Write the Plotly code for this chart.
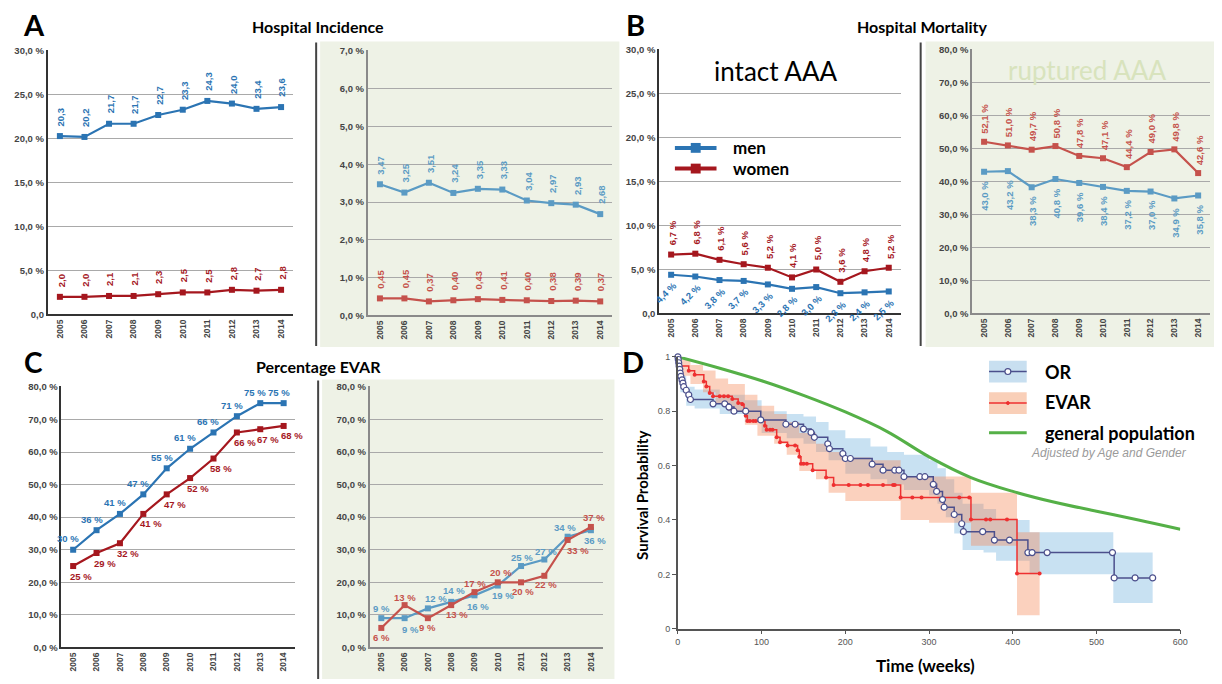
import plotly.graph_objects as go

W, H = 1222, 684
years = [str(y) for y in range(2005, 2015)]

# ---------------- data ----------------
# A  Hospital incidence (intact / ruptured)
inc_intact_men = [20.3, 20.2, 21.7, 21.7, 22.7, 23.3, 24.3, 24.0, 23.4, 23.6]
inc_intact_women = [2.0, 2.0, 2.1, 2.1, 2.3, 2.5, 2.5, 2.8, 2.7, 2.8]
inc_rupt_men = [3.47, 3.25, 3.51, 3.24, 3.35, 3.33, 3.04, 2.97, 2.93, 2.68]
inc_rupt_women = [0.45, 0.45, 0.37, 0.40, 0.43, 0.41, 0.40, 0.38, 0.39, 0.37]
# B  Hospital mortality
mort_intact_men = [4.4, 4.2, 3.8, 3.7, 3.3, 2.8, 3.0, 2.3, 2.4, 2.5]
mort_intact_women = [6.7, 6.8, 6.1, 5.6, 5.2, 4.1, 5.0, 3.6, 4.8, 5.2]
mort_rupt_men = [43.0, 43.2, 38.3, 40.8, 39.6, 38.4, 37.2, 37.0, 34.9, 35.8]
mort_rupt_women = [52.1, 51.0, 49.7, 50.8, 47.8, 47.1, 44.4, 49.0, 49.8, 42.6]
# C  Percentage EVAR
evar_intact_men = [30, 36, 41, 47, 55, 61, 66, 71, 75, 75]
evar_intact_women = [25, 29, 32, 41, 47, 52, 58, 66, 67, 68]
evar_rupt_men = [9, 9, 12, 14, 16, 19, 25, 27, 34, 36]
evar_rupt_women = [6, 13, 9, 13, 17, 20, 20, 22, 33, 37]

# tick values / labels
ticks_30 = [0, 5, 10, 15, 20, 25, 30]
ticktext_30 = ["0,0", "5,0 %", "10,0 %", "15,0 %", "20,0 %", "25,0 %", "30,0 %"]
ticks_7 = [0, 1, 2, 3, 4, 5, 6, 7]
ticktext_7 = ["0,0 %", "1,0 %", "2,0 %", "3,0 %", "4,0 %", "5,0 %", "6,0 %", "7,0 %"]
ticks_80 = [0, 10, 20, 30, 40, 50, 60, 70, 80]
ticktext_80 = ["0,0 %", "10,0 %", "20,0 %", "30,0 %", "40,0 %", "50,0 %", "60,0 %", "70,0 %", "80,0 %"]

# D  Kaplan-Meier survival
or_t = [0, 0.5, 1, 1.5, 2.3, 2.8, 3.6, 5, 6, 7, 10, 13, 15, 42, 56, 61, 67, 81, 99, 129,
        140, 150, 159, 163, 179, 181, 197, 200, 206, 232, 245, 259, 264, 270, 289, 295, 305, 309, 316, 318,
        330, 339, 341, 364, 378, 396, 418, 423, 441, 519, 521, 546, 567]
or_s = [1.0, 0.99, 0.978, 0.966, 0.954, 0.94, 0.928, 0.915, 0.903, 0.89, 0.877, 0.86, 0.843, 0.827, 0.827, 0.815, 0.80, 0.80, 0.768, 0.752,
        0.752, 0.734, 0.722, 0.704, 0.68, 0.662, 0.644, 0.626, 0.626, 0.605, 0.583, 0.583, 0.583, 0.559, 0.559, 0.559, 0.531, 0.505, 0.475, 0.447,
        0.42, 0.386, 0.357, 0.357, 0.326, 0.326, 0.28, 0.28, 0.28, 0.28, 0.187, 0.187, 0.187]
or_ci_t = [0, 3, 10, 20, 50, 80, 100, 130, 150, 165, 180, 200, 230, 250, 270, 300, 310, 320, 330, 340,
           365, 380, 420, 520, 567]
or_ci_up = [1.0, 0.93, 0.89, 0.88, 0.86, 0.84, 0.80, 0.79, 0.78, 0.76, 0.73, 0.70, 0.67, 0.65, 0.64, 0.62, 0.59, 0.55, 0.50, 0.46,
            0.44, 0.40, 0.355, 0.28, 0.28]
or_ci_lo = [1.0, 0.87, 0.82, 0.81, 0.79, 0.76, 0.72, 0.70, 0.68, 0.65, 0.62, 0.57, 0.55, 0.53, 0.51, 0.49, 0.46, 0.41, 0.35, 0.29,
            0.28, 0.25, 0.20, 0.095, 0.095]
evar_t = [0, 3, 13, 20, 31, 34, 38, 42, 50, 55, 60, 65, 72, 77, 79, 81, 83, 86, 90, 93,
          104, 106, 110, 113, 118, 122, 131, 140, 143, 145, 147, 150, 154, 161, 177, 186, 204, 218, 227, 245,
          257, 259, 266, 280, 291, 336, 348, 350, 368, 373, 393, 405, 432]
evar_s = [1.0, 0.966, 0.949, 0.934, 0.909, 0.891, 0.867, 0.855, 0.855, 0.855, 0.855, 0.845, 0.83, 0.825, 0.80, 0.783, 0.764, 0.764, 0.764, 0.764,
          0.746, 0.732, 0.732, 0.732, 0.704, 0.686, 0.674, 0.674, 0.656, 0.632, 0.607, 0.607, 0.607, 0.583, 0.556, 0.529, 0.529, 0.529, 0.529, 0.529,
          0.529, 0.529, 0.483, 0.483, 0.483, 0.483, 0.483, 0.402, 0.402, 0.402, 0.402, 0.203, 0.203]
evar_ci_t = [0, 5, 15, 30, 45, 60, 80, 95, 115, 130, 145, 165, 180, 200, 230, 266, 300, 350, 405, 432]
evar_ci_up = [1.0, 0.99, 0.97, 0.95, 0.92, 0.90, 0.86, 0.82, 0.79, 0.76, 0.72, 0.68, 0.65, 0.63, 0.62, 0.56, 0.56, 0.50, 0.355, 0.355]
evar_ci_lo = [1.0, 0.93, 0.90, 0.87, 0.83, 0.80, 0.75, 0.71, 0.68, 0.64, 0.58, 0.55, 0.50, 0.47, 0.47, 0.40, 0.39, 0.305, 0.05, 0.05]
pop_t = [0, 50, 100, 150, 200, 250, 300, 350, 400, 450, 500, 550, 600]
pop_s = [1.0, 0.958, 0.912, 0.858, 0.797, 0.725, 0.632, 0.556, 0.505, 0.465, 0.432, 0.400, 0.366]

# ---------------- style ----------------
FT = "Lato, 'Open Sans', sans-serif"
FN = "'Liberation Sans', Arial, sans-serif"
BLUE, RED = "#2b74b3", "#a5171e"
BLUE_L, RED_L = "#5b9bc4", "#c5524c"
GREEN_BG = "#eef2e6"

fig = go.Figure()
shapes, ann = [], []


def px_dom(x0, x1, y0, y1):
    return [x0 / W, x1 / W], [1 - y1 / H, 1 - y0 / H]


def px_rect(x0, y0, x1, y1, **kw):
    return dict(type="rect", xref="paper", yref="paper", x0=x0 / W, x1=x1 / W,
                y0=1 - y1 / H, y1=1 - y0 / H, **kw)


def px_line(x0, y0, x1, y1, color, width):
    return dict(type="line", xref="paper", yref="paper", x0=x0 / W, x1=x1 / W,
                y0=1 - y0 / H, y1=1 - y1 / H, line=dict(color=color, width=width))


def ptext(x, y, text, size, color="black", weight="normal", xanchor="center", family=FT, angle=0, style="normal"):
    ann.append(dict(x=x / W, y=1 - y / H, xref="paper", yref="paper", text=text, showarrow=False,
                    xanchor=xanchor, yanchor="middle", textangle=angle,
                    font=dict(family=family, size=size, color=color, weight=weight, style=style)))


# background panels
shapes.append(px_rect(320, 37, 622, 347, fillcolor=GREEN_BG, line=dict(width=0), layer="below"))
shapes.append(px_rect(931, 37, 1222, 347, fillcolor=GREEN_BG, line=dict(width=0), layer="below"))
shapes.append(px_rect(322, 380, 617, 684, fillcolor=GREEN_BG, line=dict(width=0), layer="below"))
shapes.append(px_line(316, 38, 316, 346, "#444", 2))
shapes.append(px_line(926, 38, 926, 346, "#444", 2))
shapes.append(px_line(318, 381, 318, 684, "#444", 2))

panels = [
    ("", (45, 293), (46, 314), 30, ticks_30, ticktext_30, False),
    ("2", (368, 615), (46, 315), 7, ticks_7, ticktext_7, True),
    ("3", (662, 906), (45, 313), 30, ticks_30, ticktext_30, False),
    ("4", (978, 1218), (45, 313), 80, ticks_80, ticktext_80, True),
    ("5", (59, 295), (387, 652), 80, ticks_80, ticktext_80, False),
    ("6", (370, 605), (387, 652), 80, ticks_80, ticktext_80, True),
]
layout_axes = {}
for k, xp, yp, ymax, tv, tt, green in panels:
    xd, yd = px_dom(xp[0], xp[1], yp[0], yp[1])
    axc = "#8a8a8a" if green else "#333333"
    layout_axes["xaxis" + k] = dict(domain=xd, anchor="y" + k, type="category", range=[-0.5, 9.5],
                                    showgrid=False, showline=True, linecolor=axc, linewidth=1.5,
                                    tickangle=-90, ticks="", zeroline=False,
                                    tickfont=dict(family=FN, size=8.5, color="#444", weight="bold"))
    layout_axes["yaxis" + k] = dict(domain=yd, anchor="x" + k, range=[0, ymax * 1.002], tickvals=tv, ticktext=tt,
                                    showgrid=True, gridcolor="#a9a9a9", gridwidth=1, showline=True,
                                    linecolor=axc, linewidth=1.5, zeroline=False, ticks="",
                                    tickfont=dict(family=FN, size=9.5, color="#444", weight="bold"))

series = [
    ("", inc_intact_men, BLUE), ("", inc_intact_women, RED),
    ("2", inc_rupt_men, BLUE_L), ("2", inc_rupt_women, RED_L),
    ("3", mort_intact_men, BLUE), ("3", mort_intact_women, RED),
    ("4", mort_rupt_men, BLUE_L), ("4", mort_rupt_women, RED_L),
    ("5", evar_intact_men, BLUE), ("5", evar_intact_women, RED),
    ("6", evar_rupt_men, BLUE_L), ("6", evar_rupt_women, RED_L),
]
for k, vals, c in series:
    fig.add_trace(go.Scatter(x=years, y=vals, mode="lines+markers", xaxis="x" + k, yaxis="y" + k,
                             line=dict(color=c, width=2.2), marker=dict(symbol="square", size=6, color=c),
                             showlegend=False, cliponaxis=False, hoverinfo="skip"))


def fmt(v, nd, pct):
    s = f"{v:.{nd}f}".replace(".", ",")
    return s + (" %" if pct else "")


def add_labels(k, vals, nd, pct, color, angle, xa, ya, dx, dy, size=9.5):
    # category axis: annotation x given as category index
    for i, v in enumerate(vals):
        ann.append(dict(x=i, y=v, xref="x" + k, yref="y" + k, text=fmt(v, nd, pct), showarrow=False,
                        textangle=angle, xanchor=xa, yanchor=ya,
                        xshift=dx[i] if isinstance(dx, list) else dx,
                        yshift=dy[i] if isinstance(dy, list) else dy,
                        font=dict(family=FN, size=size, color=color, weight="bold")))


add_labels("", inc_intact_men, 1, False, BLUE, -90, "center", "bottom", 1, 8)
add_labels("", inc_intact_women, 1, False, RED, -90, "center", "bottom", 1, 8)
add_labels("2", inc_rupt_men, 2, False, BLUE_L, -90, "center", "bottom", 1, 8)
add_labels("2", inc_rupt_women, 2, False, RED_L, -90, "center", "bottom", 1, 8)
add_labels("3", mort_intact_women, 1, True, RED, -90, "center", "bottom", 1, 7)
add_labels("3", mort_intact_men, 1, True, BLUE, -45, "center", "middle", -5, -18)
add_labels("4", mort_rupt_women, 1, True, RED_L, -90, "center", "bottom", 1, 6)
add_labels("4", mort_rupt_men, 1, True, BLUE_L, -90, "center", "top", 1, -7)
add_labels("5", evar_intact_men, 0, True, BLUE, 0, "center", "middle", -5, 11)
add_labels("5", evar_intact_women, 0, True, RED, 0, "center", "middle", 8, -10)
c_men_dx = [0, 6, 8, 3, 4, 5, 1, 2, -3, 4]
c_men_dy = [10, -11, 10, 11, -11, -10, 9, 8, 9, -10]
c_wom_dx = [0, 0, 0, 6, 1, 3, 2, 2, 10, 3]
c_wom_dy = [-10, 8, -9, -9, 9, 10, -9, -9, -11, 9]
add_labels("6", evar_rupt_men, 0, True, BLUE_L, 0, "center", "middle", c_men_dx, c_men_dy)
add_labels("6", evar_rupt_women, 0, True, RED_L, 0, "center", "middle", c_wom_dx, c_wom_dy)

# ---------------- panel D ----------------
xd, yd = px_dom(681, 1188, 357, 633)
dfont = dict(family="'Liberation Sans', sans-serif", size=9, color="#555")
layout_axes["xaxis7"] = dict(domain=xd, anchor="y7", range=[0, 600], tickvals=[0, 100, 200, 300, 400, 500, 600],
                             showgrid=False, zeroline=False, showline=True, linecolor="#555", linewidth=1.5,
                             ticks="outside", ticklen=4, tickcolor="#555", tickfont=dfont)
layout_axes["yaxis7"] = dict(domain=yd, anchor="x7", range=[0, 1], tickvals=[0, 0.2, 0.4, 0.6, 0.8, 1],
                             ticktext=["0", "0.2", "0.4", "0.6", "0.8", "1"],
                             showgrid=False, zeroline=False, showline=True, linecolor="#555", linewidth=1.5,
                             ticks="outside", ticklen=4, tickcolor="#555", tickfont=dfont)

OR_FILL = "rgba(110,175,220,0.38)"
EV_FILL = "rgba(245,135,85,0.38)"
fig.add_trace(go.Scatter(x=or_ci_t, y=or_ci_up, xaxis="x7", yaxis="y7", mode="lines", line=dict(width=0, shape="hv"),
                         showlegend=False, hoverinfo="skip"))
fig.add_trace(go.Scatter(x=or_ci_t, y=or_ci_lo, xaxis="x7", yaxis="y7", mode="lines", line=dict(width=0, shape="hv"),
                         fill="tonexty", fillcolor=OR_FILL, showlegend=False, hoverinfo="skip"))
fig.add_trace(go.Scatter(x=evar_ci_t, y=evar_ci_up, xaxis="x7", yaxis="y7", mode="lines", line=dict(width=0, shape="hv"),
                         showlegend=False, hoverinfo="skip"))
fig.add_trace(go.Scatter(x=evar_ci_t, y=evar_ci_lo, xaxis="x7", yaxis="y7", mode="lines", line=dict(width=0, shape="hv"),
                         fill="tonexty", fillcolor=EV_FILL, showlegend=False, hoverinfo="skip"))
fig.add_trace(go.Scatter(x=pop_t, y=pop_s, xaxis="x7", yaxis="y7", mode="lines",
                         line=dict(color="#55b047", width=3, shape="spline"), showlegend=False, hoverinfo="skip"))
fig.add_trace(go.Scatter(x=evar_t, y=evar_s, xaxis="x7", yaxis="y7", mode="lines+markers",
                         line=dict(color="#ee3030", width=1.5, shape="hv"),
                         marker=dict(symbol="circle", size=4, color="#ee3030"), showlegend=False, hoverinfo="skip"))
fig.add_trace(go.Scatter(x=or_t, y=or_s, xaxis="x7", yaxis="y7", mode="lines+markers",
                         line=dict(color="#4b4f8c", width=1.5, shape="hv"),
                         marker=dict(symbol="circle", size=6, color="white", line=dict(color="#4b4f8c", width=1.2)),
                         showlegend=False, hoverinfo="skip", cliponaxis=False))

# D legend
shapes.append(px_rect(995, 361, 1033, 383, fillcolor="#c8dff0", line=dict(width=0)))
shapes.append(px_line(995, 372, 1033, 372, "#4b4f8c", 1.5))
shapes.append(dict(type="circle", xref="paper", yref="paper", x0=1011 / W, x1=1017 / W, y0=1 - 375 / H, y1=1 - 369 / H,
                   fillcolor="white", line=dict(color="#4b4f8c", width=1.2)))
shapes.append(px_rect(995, 393, 1033, 415, fillcolor="#f9cfb8", line=dict(width=0)))
shapes.append(px_line(995, 404, 1033, 404, "#ee3030", 1.5))
shapes.append(dict(type="circle", xref="paper", yref="paper", x0=1012.5 / W, x1=1015.5 / W, y0=1 - 405.5 / H,
                   y1=1 - 402.5 / H, fillcolor="#ee3030", line=dict(color="#ee3030", width=1)))
shapes.append(px_line(995, 434, 1033, 434, "#55b047", 3))
ptext(1049, 372, "OR", 18, weight="bold", xanchor="left")
ptext(1049, 403, "EVAR", 18, weight="bold", xanchor="left")
ptext(1049, 434, "general population", 18, weight="bold", xanchor="left")
ptext(1116, 455, "Adjusted by Age and Gender", 12, color="#9a9a9a", style="italic", family="'Liberation Sans', sans-serif")
ptext(645, 498, "Survival Probability", 15, weight="bold", angle=-90)
ptext(931, 670, "Time (weeks)", 17, weight="bold")

# B legend
shapes.append(px_line(678, 145, 720, 145, BLUE, 4))
shapes.append(px_rect(694, 140, 704, 150, fillcolor=BLUE, line=dict(width=0)))
shapes.append(px_line(678, 166, 720, 166, RED, 4))
shapes.append(px_rect(694, 161, 704, 171, fillcolor=RED, line=dict(width=0)))
ptext(735, 145, "men", 17, weight="bold", xanchor="left")
ptext(735, 166, "women", 17, weight="bold", xanchor="left")

# panel texts
ptext(780, 67, "intact AAA", 26)
ptext(1094, 66, "ruptured AAA", 26, color="#d8e3bd")
ptext(31, 20, "A", 29, weight="bold")
ptext(638, 20, "B", 29, weight="bold")
ptext(31, 362, "C", 28, weight="bold")
ptext(636, 362, "D", 29, weight="bold")
ptext(318, 22, "Hospital Incidence", 16, weight="bold")
ptext(927, 22, "Hospital Mortality", 16, weight="bold")
ptext(318, 367, "Percentage EVAR", 16, weight="bold")

fig.update_layout(width=W, height=H, margin=dict(l=0, r=0, t=0, b=0), paper_bgcolor="white",
                  plot_bgcolor="rgba(0,0,0,0)", showlegend=False, shapes=shapes, annotations=ann,
                  **layout_axes)
fig.write_html("out.html")
